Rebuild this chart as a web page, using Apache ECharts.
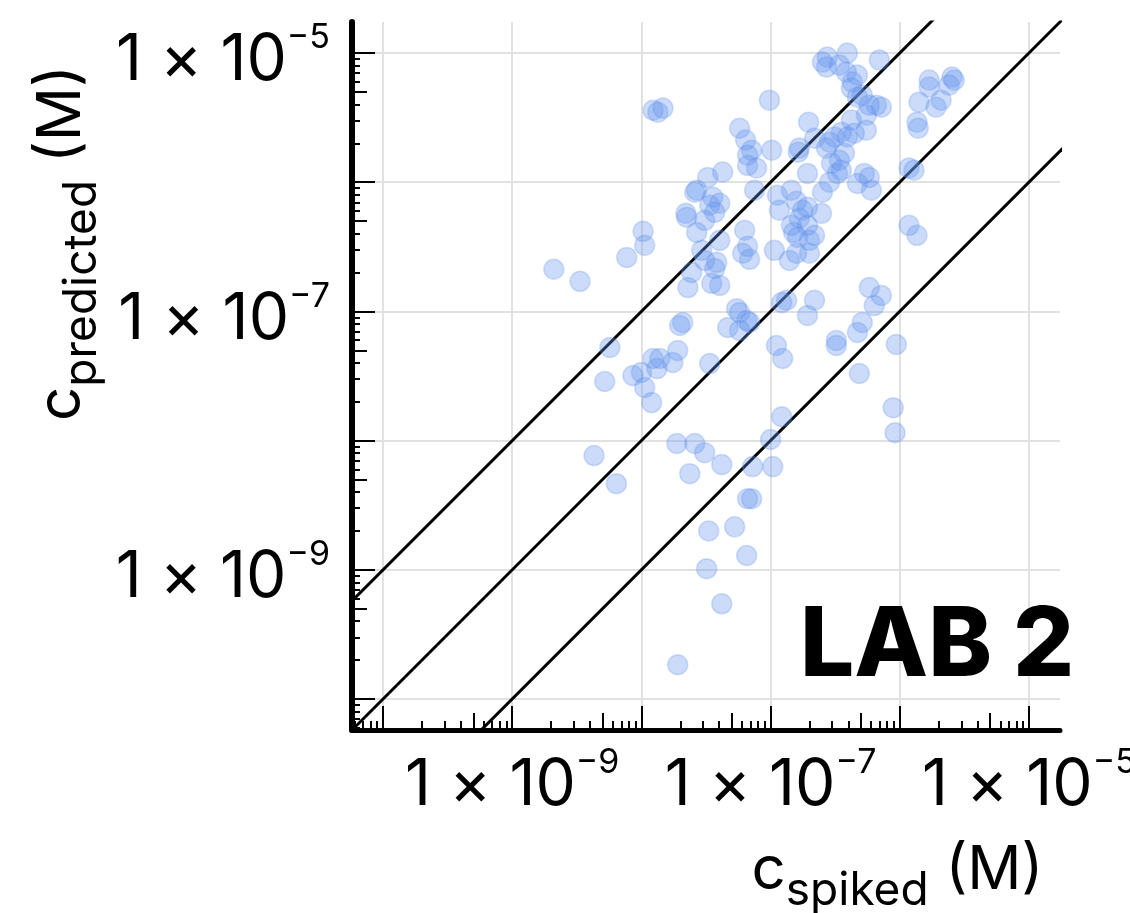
<!DOCTYPE html>
<html><head><meta charset="utf-8">
<script src="https://cdn.jsdelivr.net/npm/echarts@6/dist/echarts.min.js"></script>
<style>html,body{margin:0;padding:0;background:#fff}#c{width:1130px;height:913px}</style>
</head><body><div id="c"></div>
<script>
// c_spiked (M)
const spiked = [
1.23e-8,1.47e-8,1.34e-8,9.8e-8,5.76e-8,6.41e-8,7.13e-8,6.64e-8,6.64e-8,7.79e-8,
1.02e-7,4.26e-8,3.26e-8,2.59e-8,3.57e-8,7.52e-8,1.45e-7,1.64e-7,1.97e-7,1.93e-7,
2.52e-7,2.75e-7,3.93e-7,2.71e-7,3.41e-7,3.86e-7,4.7e-7,4.3e-7,4.22e-7,5.13e-7,
4.7e-7,6.95e-7,6.59e-7,7.2e-7,5.81e-7,5.51e-7,4.22e-7,3.53e-7,3.93e-7,4.45e-7,
3.12e-7,2.86e-7,2.71e-7,5.51e-7,3.73e-7,3.41e-7,2.96e-7,3.53e-7,5.32e-7,5.81e-7,
4.7e-7,6.03e-7,3.29e-7,2.86e-7,2.52e-7,2.19e-7,1.67e-7,1.18e-6,1.29e-6,1.69e-6,
2.54e-6,2.64e-6,1.69e-6,2.41e-6,1.41e-6,2.09e-6,1.91e-6,1.36e-6,1.39e-6,1.18e-6,
1.36e-6,1.03e-8,1.06e-8,7.7e-9,2.24e-8,2.21e-8,2.68e-8,3.38e-8,4.04e-8,3.7e-8,
2.68e-8,3.09e-8,6.3e-8,6.64e-8,6.08e-8,2.93e-8,4.04e-8,1.13e-7,1.17e-7,1.59e-7,
1.77e-7,1.93e-7,1.45e-7,1.67e-7,1.93e-7,1.51e-7,1.62e-7,1.07e-7,1.4e-7,2.19e-7,
2.48e-7,2.0e-7,2.1e-9,3.35e-9,2.29e-8,2.45e-8,3.09e-8,3.83e-8,3.7e-8,3.5e-8,
4.04e-8,6.88e-8,1.59e-7,2.0e-7,5.46e-8,5.76e-8,6.53e-8,6.88e-8,4.66e-8,5.76e-8,
1.98e-8,2.09e-8,5.7e-9,5.2e-9,8.6e-9,1.0e-8,1.06e-8,1.2e-8,1.23e-8,1.32e-8,
1.39e-8,1.75e-8,1.91e-8,3.38e-8,1.11e-7,1.24e-7,1.22e-7,1.33e-7,1.93e-7,2.19e-7,
3.23e-7,3.23e-7,4.7e-7,5.13e-7,5.81e-7,6.35e-7,7.2e-7,9.4e-7,4.87e-7,8.9e-7,
9.2e-7,1.22e-7,1.0e-7,1.04e-7,7.26e-8,7.13e-8,6.64e-8,5.27e-8,3.32e-8,6.53e-8,
3.2e-8,4.19e-8,1.91e-8,1.88e-8,2.59e-8,3.09e-8,4.19e-8,2.37e-8,4.3e-9,6.4e-9
];
// c_predicted (M)
const predicted = [
3.61e-6,3.75e-6,3.49e-6,4.32e-6,2.62e-6,2.12e-6,1.77e-6,1.62e-6,1.35e-6,1.29e-6,
1.77e-6,1.2e-6,1.09e-6,8.37e-7,7.66e-7,8.67e-7,8.67e-7,1.71e-6,2.92e-6,1.17e-6,
8.51e-6,9.31e-6,1.0e-5,7.79e-6,8.07e-6,7.13e-6,6.75e-6,5.96e-6,5.36e-6,4.72e-6,
4.56e-6,8.83e-6,3.95e-6,3.81e-6,3.95e-6,3.31e-6,3.03e-6,2.44e-6,2.24e-6,2.4e-6,
2.24e-6,2.04e-6,1.84e-6,2.53e-6,1.68e-6,1.48e-6,1.40e-6,1.24e-6,1.17e-6,1.09e-6,
9.8e-7,8.67e-7,1.17e-6,1.0e-6,8.37e-7,2.19e-6,1.84e-6,1.29e-6,1.24e-6,6.18e-6,
6.52e-6,6.18e-6,5.45e-6,5.65e-6,4.17e-6,4.32e-6,3.81e-6,2.92e-6,2.62e-6,4.64e-7,
3.88e-7,4.17e-7,3.25e-7,2.62e-7,5.36e-7,5.75e-7,8.67e-7,6.64e-7,6.88e-7,5.85e-7,
4.09e-7,5.07e-7,4.25e-7,3.19e-7,2.82e-7,2.97e-7,3.55e-7,7.93e-7,6.07e-7,7.13e-7,
6.07e-7,6.4e-7,4.64e-7,5.26e-7,4.64e-7,4.09e-7,3.75e-7,2.97e-7,2.48e-7,3.88e-7,
5.75e-7,3.55e-7,2.12e-7,1.71e-7,1.53e-7,2.0e-7,2.48e-7,2.4e-7,2.15e-7,1.65e-7,
1.59e-7,2.53e-7,2.82e-7,2.82e-7,1.05e-7,9.8e-8,8.51e-8,8.22e-8,7.51e-8,7.13e-8,
7.79e-8,8.22e-8,5.26e-8,2.87e-8,3.19e-8,3.37e-8,2.58e-8,1.97e-8,4.32e-8,3.61e-8,
4.32e-8,4.03e-8,4.98e-8,3.95e-8,5.45e-8,4.32e-8,1.17e-7,1.22e-7,9.31e-8,1.22e-7,
5.96e-8,5.45e-8,6.88e-8,8.22e-8,1.53e-7,1.11e-7,1.33e-7,5.55e-8,3.31e-8,1.8e-8,
1.15e-8,1.53e-8,1.02e-8,6.29e-9,6.29e-9,3.55e-9,3.55e-9,2.15e-9,2.0e-9,1.29e-9,
1.02e-9,5.45e-10,1.84e-10,9.5e-9,9.5e-9,8.07e-9,6.52e-9,5.55e-9,7.66e-9,4.64e-9
];
// reference lines: c_predicted = ratio * c_spiked
const ratioLines = [10, 1, 0.1];
const lineSpan = [1e-12, 1e-3];
// axis ticks
const labelTicks = [1e-9, 1e-7, 1e-5];
const decadeTicks = [1e-10, 1e-9, 1e-8, 1e-7, 1e-6, 1e-5];
const halfTicks = [5e-11, 5e-10, 5e-9, 5e-8, 5e-7, 5e-6];
const minorMantissas = [2, 3, 4, 6, 7, 8, 9];
const minorBase = [1e-11, 1e-10, 1e-9, 1e-8, 1e-7, 1e-6, 1e-5];
const AX_MIN = 5.75e-11, AX_MAX = 1.74e-5;

const minorTicks = [];
minorBase.forEach(b => minorMantissas.forEach(m => minorTicks.push(m * b)));

const FONT = 'Inter';
const labelRich = {
  b: {fontSize: 64, height: 80, lineHeight: 80, fontFamily: FONT, color: '#000', verticalAlign: 'top'},
  s: {fontSize: 34, height: 34, lineHeight: 34, fontFamily: FONT, color: '#000', verticalAlign: 'top'}
};
const nameRich = {
  c: {fontSize: 60, height: 60, lineHeight: 60, fontFamily: FONT, color: '#000', verticalAlign: 'top'},
  sub: {fontSize: 46, height: 100, lineHeight: 100, fontFamily: FONT, color: '#000', verticalAlign: 'top'},
  m: {fontSize: 60, height: 60, lineHeight: 60, fontFamily: FONT, color: '#000', verticalAlign: 'top'}
};
function fmt(v) {
  const e = Math.round(Math.log10(v));
  return '{b|1 × 10}{s|' + (e < 0 ? '−' : '') + Math.abs(e) + '}';
}
const tickStyle = {color: '#000', width: 2};

function tickAxis(pos, vals, len) {
  return {
    type: 'log', logBase: 10, min: AX_MIN, max: AX_MAX, gridIndex: 0, position: pos,
    axisLine: {show: false}, axisLabel: {show: false}, splitLine: {show: false},
    axisTick: {show: true, inside: true, length: len, customValues: vals, lineStyle: tickStyle}
  };
}

const series = ratioLines.map(r => ({
  type: 'line', xAxisIndex: 0, yAxisIndex: 0, z: 1, clip: true,
  showSymbol: false, symbol: 'none', silent: true,
  lineStyle: {color: '#000', width: 3},
  data: lineSpan.map(x => [x, r * x])
}));
series.push({
  type: 'scatter', xAxisIndex: 0, yAxisIndex: 0, z: 3,
  symbolSize: 20,
  itemStyle: {color: 'rgba(100,149,237,0.42)', borderColor: 'rgba(100,149,237,0.35)', borderWidth: 1.5},
  data: spiked.map((x, i) => [x, predicted[i]])
});

const option = {
  animation: false,
  backgroundColor: '#fff',
  title: {
    text: 'LAB 2', left: 800, top: 599, padding: 0,
    textStyle: {fontSize: 96, fontWeight: 800, fontFamily: FONT, color: '#000'}
  },
  grid: {left: 352, top: 22, width: 708, height: 708, containLabel: false, outerBoundsMode: 'none'},
  xAxis: [
    {
      type: 'log', logBase: 10, min: AX_MIN, max: AX_MAX, position: 'bottom',
      name: '{c|c}{sub|spiked}{m| (M)}', nameLocation: 'middle', nameGap: 111, nameMoveOverlap: false,
      nameTextStyle: {padding: [0, 0, 0, 383], rich: nameRich},
      axisLine: {show: true, lineStyle: {color: '#000', width: 5}},
      axisTick: {show: true, inside: true, length: 24, customValues: decadeTicks, lineStyle: tickStyle},
      minorTick: {show: false},
      axisLabel: {show: true, customValues: labelTicks, formatter: fmt, margin: 16, rich: labelRich, color: '#000'},
      splitLine: {show: true, lineStyle: {color: '#e1e1e1', width: 2}}
    },
    tickAxis('bottom', halfTicks, 17),
    tickAxis('bottom', minorTicks, 9)
  ],
  yAxis: [
    {
      type: 'log', logBase: 10, min: AX_MIN, max: AX_MAX, position: 'left',
      name: '{c|c}{sub|predicted}{m| (M)}', nameLocation: 'middle', nameGap: 220, nameRotate: 90, nameMoveOverlap: false,
      nameTextStyle: {padding: [0, 0, 0, 266], rich: nameRich},
      axisLine: {show: true, lineStyle: {color: '#000', width: 6}},
      axisTick: {show: true, inside: true, length: 23, customValues: decadeTicks, lineStyle: tickStyle},
      minorTick: {show: false},
      axisLabel: {show: true, customValues: labelTicks, formatter: fmt, margin: 22, padding: [16, 0, 0, 0], rich: labelRich, color: '#000'},
      splitLine: {show: true, lineStyle: {color: '#e1e1e1', width: 2}}
    },
    tickAxis('left', halfTicks, 15),
    tickAxis('left', minorTicks, 8)
  ],
  series: series
};
const chart = echarts.init(document.getElementById('c'), null, {renderer: 'canvas'});
chart.setOption(option);
</script></body></html>
